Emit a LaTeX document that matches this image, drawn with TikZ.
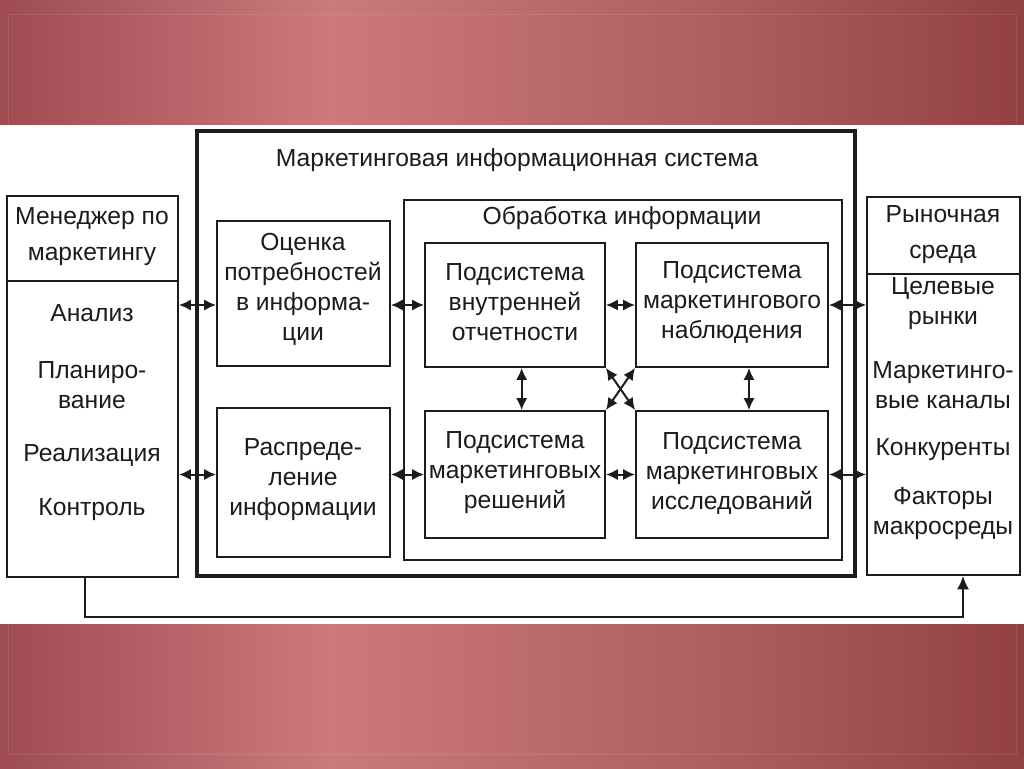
\documentclass[tikz,border=0pt]{standalone}
\usepackage{fontspec}
\setmainfont{Liberation Sans}
\usetikzlibrary{fit,arrows.meta}
\definecolor{bandL}{RGB}{158,76,82}
\definecolor{bandM}{RGB}{204,121,125}
\definecolor{bandR1}{RGB}{174,94,95}
\definecolor{bandR}{RGB}{146,64,68}
\definecolor{ink}{RGB}{28,28,28}
\pgfdeclarehorizontalshading{band}{100bp}{color(0bp)=(bandL); color(25bp)=(bandL); color(41bp)=(bandM); color(60bp)=(bandR1); color(75bp)=(bandR); color(100bp)=(bandR)}
\begin{document}
\begin{tikzpicture}[x=0.75pt,y=-0.75pt,
  box/.style={draw=ink, line width=1.4pt, inner sep=0pt},
  misbox/.style={draw=ink, line width=2.6pt, inner sep=0pt},
  txt/.style={font=\fontsize{18.5}{22.5}\selectfont, align=center, text=ink, inner sep=0pt},
  wtxt/.style={txt, font=\fontsize{18.5}{27}\selectfont},
  dbl/.style={{Latex[length=9pt,width=8.5pt]}-{Latex[length=9pt,width=8.5pt]}, line width=1.5pt, draw=ink},
  fb/.style={-{Latex[length=10pt,width=9pt]}, line width=1.4pt, draw=ink}]
\useasboundingbox (0,0) rectangle (1024,768);
% background bands
\fill[shading=band] (0,0) rectangle (1024,126);
\fill[shading=band] (0,624) rectangle (1024,768);
\draw[white, opacity=0.09, line width=0.6pt] (8,14) rectangle (1016,754);
\fill[white] (0,125) rectangle (1024,624);
% boxes
\node[misbox, fit={(197,131)(855,576)}] (mis) {};
\node[box, fit={(7,196)(178,577)}] (mgr) {};
\coordinate (mgrdiv) at (0,281);
\draw[box] (mgr.west |- mgrdiv) -- (mgr.east |- mgrdiv);
\node[box, fit={(867,197)(1020,575)}] (mkt) {};
\coordinate (mktdiv) at (0,274);
\draw[box] (mkt.west |- mktdiv) -- (mkt.east |- mktdiv);
\node[box, fit={(217,221)(390,366)}] (ocen) {};
\node[box, fit={(217,408)(390,557)}] (rasp) {};
\node[box, fit={(404,200)(842,560)}] (obr) {};
\node[box, fit={(425,243)(605,367)}] (vnut) {};
\node[box, fit={(636,243)(828,367)}] (nabl) {};
\node[box, fit={(425,411)(605,538)}] (resh) {};
\node[box, fit={(636,411)(828,538)}] (issl) {};
% texts
\node[txt] (tmis) at (517,160) {Маркетинговая информационная система};
\node[txt] (tobr) at (622,218) {Обработка информации};
\node[wtxt] (tmgr) at (92,237) {Менеджер по\\маркетингу};
\node[txt] (t1) at (92,313) {Анализ};
\node[txt] (t2) at (92,385) {Планиро-\\вание};
\node[txt] (t3) at (92,455) {Реализация};
\node[txt] (t4) at (92,510) {Контроль};
\node[wtxt] (tmkt) at (943,235) {Рыночная\\среда};
\node[txt] (r1) at (943,304) {Целевые\\рынки};
\node[txt] (r2) at (943,385) {Маркетинго-\\вые каналы};
\node[txt] (r3) at (943,450) {Конкуренты};
\node[txt] (r4) at (943,514) {Факторы\\макросреды};
\node[txt] (tocen) at (303,289) {Оценка\\потребностей\\в информа-\\ции};
\node[txt] (trasp) at (303,480) {Распреде-\\ление\\информации};
\node[txt] (tvnut) at (515,302) {Подсистема\\внутренней\\отчетности};
\node[txt] (tnabl) at (732,302) {Подсистема\\маркетингового\\наблюдения};
\node[txt] (tresh) at (515,473) {Подсистема\\маркетинговых\\решений};
\node[txt] (tissl) at (732,473) {Подсистема\\маркетинговых\\исследований};
% connectors
\draw[dbl] (mgr.east |- vnut.west) -- (ocen.west |- vnut.west);
\draw[dbl] (ocen.east |- vnut.west) -- (vnut.west);
\draw[dbl] (vnut.east) -- (nabl.west);
\draw[dbl] (nabl.east) -- (mkt.west |- nabl.east);
\draw[dbl] (mgr.east |- resh.west) -- (rasp.west |- resh.west);
\draw[dbl] (rasp.east |- resh.west) -- (resh.west);
\draw[dbl] (resh.east) -- (issl.west);
\draw[dbl] (issl.east) -- (mkt.west |- issl.east);
\draw[dbl] ([xshift=5pt]vnut.south) -- ([xshift=5pt]resh.north);
\draw[dbl] ([xshift=12.75pt]nabl.south) -- ([xshift=12.75pt]issl.north);
\draw[dbl] (vnut.south east) -- (issl.north west);
\draw[dbl] (nabl.south west) -- (resh.north east);
\coordinate (fbL) at (85,617);
\coordinate (fbR) at (963,617);
\draw[fb] (mgr.south -| fbL) -- (fbL) -- (fbR) -- (fbR |- mkt.south);
\end{tikzpicture}
\end{document}
